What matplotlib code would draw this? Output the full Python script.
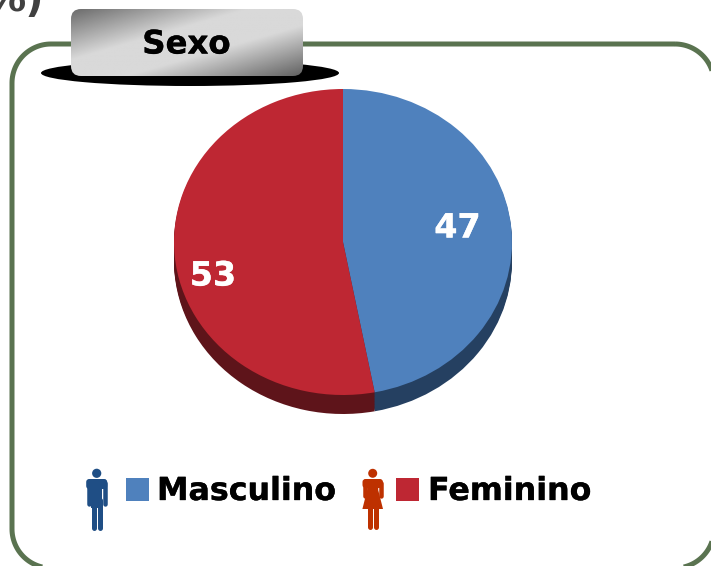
import numpy as np
import matplotlib
matplotlib.use('Agg')
import matplotlib.pyplot as plt
import matplotlib.patheffects as pe
from matplotlib.patches import FancyBboxPatch, Ellipse, Circle, Rectangle, Polygon

# Datos del grafico
categorias = ['Masculino', 'Feminino']
valores = [47, 53]
colores = ['#4F81BD', '#BE2733']
colores_lado = ['#254061', '#5E141A']

W, H = 711, 566
px = 0.72  # un pixel en puntos a dpi 100
fuente = 'DejaVu Sans'


def negrita(color):
    # engorda un poco el trazo de la letra
    return [pe.withStroke(linewidth=0.25, foreground=color)]


fig = plt.figure(figsize=(W / 100, H / 100), dpi=100)
ax = fig.add_axes([0, 0, 1, 1])
ax.set_xlim(0, W)
ax.set_ylim(H, 0)
ax.axis('off')
ax.set_zorder(2)
ax.patch.set_visible(False)

# Marco verde con esquinas redondeadas
x_a, x_b, y_a, y_b, r = 12, 714, 44, 568, 39
esquinas = [(x_b - r, y_a + r, -90), (x_b - r, y_b - r, 0), (x_a + r, y_b - r, 90), (x_a + r, y_a + r, 180)]
xs, ys = [], []
for ex, ey, a0 in esquinas:
    ang = np.radians(np.linspace(a0, a0 + 90, 30))
    xs.extend(ex + r * np.cos(ang))
    ys.extend(ey + r * np.sin(ang))
ax.add_patch(Polygon(np.column_stack([xs, ys]), closed=True, fc='none', ec='#5A7350',
                     lw=5 * px, zorder=1))

# Resto del titulo cortado arriba
ax.text(44, 11, '%)', ha='right', va='baseline', fontsize=29, family=fuente, fontweight='bold',
        color='#404040', zorder=1)

# Pestana con degradado
ax.add_patch(Ellipse((190, 73), 298, 26, fc='black', ec='none', zorder=2))
yy, xx = np.mgrid[0:1:120j, 0:1:200j]
t = (xx + yy) / 2
degradado = np.interp(t, [0, 0.38, 0.62, 1], [0.42, 0.85, 0.85, 0.38])
tab = FancyBboxPatch((71, 9), 232, 67, boxstyle='round,pad=0,rounding_size=10',
                     fc='none', ec='none', zorder=3)
ax.add_patch(tab)
img = ax.imshow(degradado, extent=(71, 303, 76, 9), cmap='gray', vmin=0, vmax=1,
                aspect='auto', zorder=3)
img.set_clip_path(tab)
ax.set_xlim(0, W)
ax.set_ylim(H, 0)
ax.text(186.5, 45, 'Sexo', ha='center', va='center', fontsize=23.3, family=fuente, fontweight='bold',
        color='black', zorder=4, path_effects=negrita('black'))

# Tarta con lado oscuro
cx, cy, rx, ry, prof = 343, 242, 169, 153, 19
pie_ax = fig.add_axes([(cx - rx) / W, 1 - (cy + ry + prof) / H, 2 * rx / W, (2 * ry + prof) / H])
d = prof / ry
for off in np.linspace(d, 0.01, 12):
    pie_ax.pie(valores, colors=colores_lado, startangle=90, counterclock=False,
               center=(0, -off), radius=1)
pie_ax.pie(valores, colors=colores, startangle=90, counterclock=False, center=(0, 0), radius=1)
pie_ax.set_aspect('auto')
pie_ax.set_xlim(-1, 1)
pie_ax.set_ylim(-1 - d, 1)

# Etiquetas de la tarta
ax.text(457.5, 228, str(valores[0]), ha='center', va='center', color='white',
        fontsize=24, family=fuente, fontweight='bold', zorder=5, path_effects=negrita('white'))
ax.text(213, 276, str(valores[1]), ha='center', va='center', color='white',
        fontsize=24, family=fuente, fontweight='bold', zorder=5, path_effects=negrita('white'))

# Leyenda
ax.add_patch(Rectangle((126, 478), 23, 23, fc=colores[0], ec='none'))
ax.add_patch(Rectangle((396, 478), 23, 23, fc=colores[1], ec='none'))
ax.text(157, 491.5, categorias[0], ha='left', va='center', fontsize=22.8, family=fuente,
        fontweight='bold', color='black', path_effects=negrita('black'))
ax.text(428, 491.5, categorias[1], ha='left', va='center', fontsize=22.8, family=fuente,
        fontweight='bold', color='black', path_effects=negrita('black'))

# Figura de hombre
azul = '#1F4E85'
x0 = 96.7
ax.add_patch(Circle((x0, 473.3), 4.6, fc=azul, ec='none'))
ax.add_patch(FancyBboxPatch((x0 - 10.5, 479), 21, 10, boxstyle='round,pad=0,rounding_size=3', fc=azul, ec='none'))
ax.add_patch(Rectangle((x0 - 5.4, 482), 10.8, 26, fc=azul, ec='none'))
for dx in (-8.2, 8.2):
    ax.plot([x0 + dx, x0 + dx], [483, 503.5], color=azul, lw=4.5 * px, solid_capstyle='round')
for dx in (-2.8, 2.8):
    ax.plot([x0 + dx, x0 + dx], [500, 527.5], color=azul, lw=5 * px, solid_capstyle='round')

# Figura de mujer
rojo = '#BE3100'
x1 = 372.7
ax.add_patch(Circle((x1, 473.3), 4.5, fc=rojo, ec='none'))
ax.add_patch(FancyBboxPatch((x1 - 10.2, 479), 20.4, 9, boxstyle='round,pad=0,rounding_size=3', fc=rojo, ec='none'))
ax.add_patch(Polygon([(x1 - 5.5, 482), (x1 + 5.5, 482), (x1 + 5.5, 490), (x1 + 10.3, 509),
                      (x1 - 10.3, 509), (x1 - 5.5, 490)], fc=rojo, ec='none'))
for dx in (-8, 8):
    ax.plot([x1 + dx, x1 + dx], [483, 496], color=rojo, lw=4.5 * px, solid_capstyle='round')
for dx in (-2.8, 2.8):
    ax.plot([x1 + dx, x1 + dx], [507, 526.5], color=rojo, lw=5 * px, solid_capstyle='round')

fig.savefig('out.png', dpi=100, facecolor='white')
